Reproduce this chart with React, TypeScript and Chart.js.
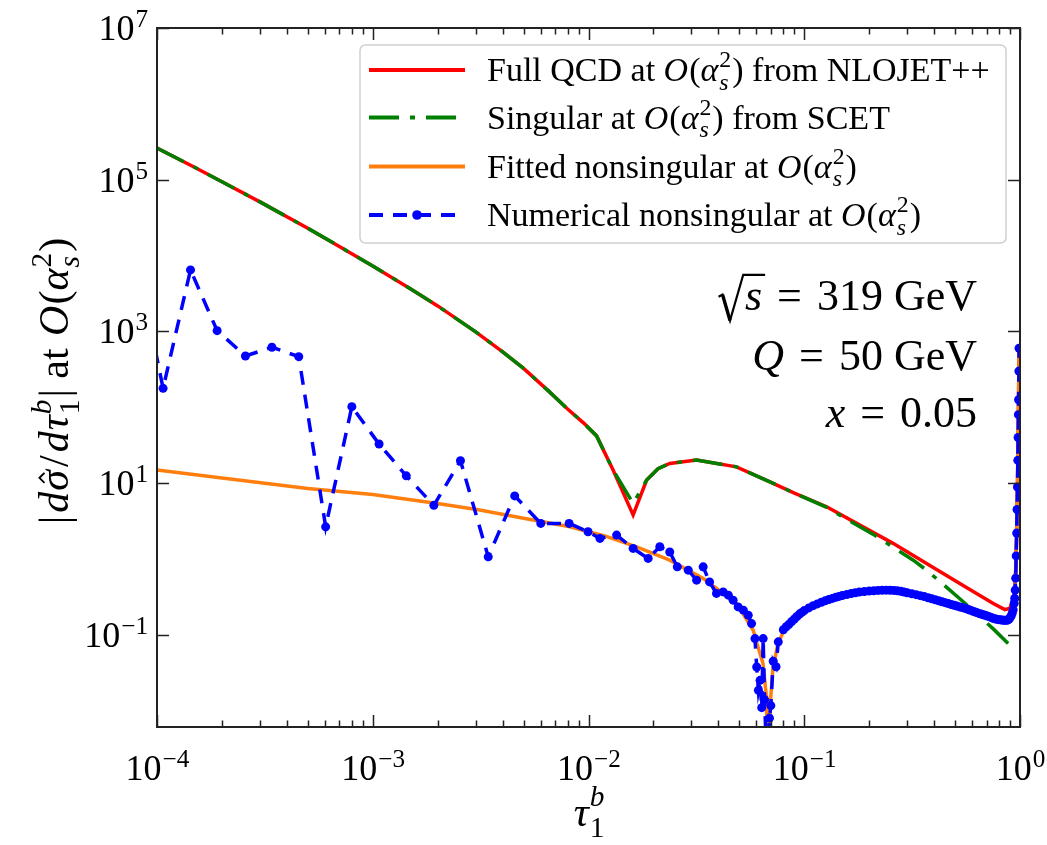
import React, { useEffect, useRef } from "react";
import { Chart, registerables } from "chart.js";
Chart.register(...registerables);

// ---------------- data ----------------
const FULL_X = [1e-4, 1.5e-4, 2e-4, 3e-4, 5e-4, 7e-4, 1e-3, 1.5e-3, 2e-3, 3e-3, 4e-3, 5e-3, 6.5e-3, 8e-3, 9.5e-3, 0.0109, 0.013, 0.0161, 0.0186, 0.021, 0.0238, 0.0317, 0.0485, 0.0693, 0.09, 0.127, 0.181, 0.258, 0.369, 0.526, 0.752, 0.851, 0.897, 0.937, 0.955, 0.965, 0.973, 0.98, 0.99];
const FULL_Y = [2.61e5, 1.45e5, 9.4e4, 5.1e4, 2.29e4, 1.32e4, 7280, 3620, 2170, 986, 538, 326, 166, 95, 62, 42, 14.9, 3.8, 11.0, 15.5, 18.2, 20.2, 16.4, 10.4, 7.4, 4.89, 2.8, 1.61, 0.873, 0.476, 0.26, 0.216, 0.223, 0.317, 0.7, 2.4, 9, 40, 600];

const SING_X = [1e-4, 1.5e-4, 2e-4, 3e-4, 5e-4, 7e-4, 1e-3, 1.5e-3, 2e-3, 3e-3, 4e-3, 5e-3, 6.5e-3, 8e-3, 9.5e-3, 0.0109, 0.013, 0.0161, 0.0186, 0.021, 0.0238, 0.0317, 0.0485, 0.0693, 0.09, 0.127, 0.181, 0.208, 0.32, 0.369, 0.526, 0.752, 0.881];
const SING_Y = [2.61e5, 1.45e5, 9.4e4, 5.1e4, 2.29e4, 1.32e4, 7280, 3620, 2170, 986, 538, 326, 166, 95, 62, 42, 14.9, 5.4, 11.0, 15.5, 18.2, 20.2, 16.4, 10.4, 7.4, 4.8, 2.66, 2.13, 0.966, 0.713, 0.30, 0.12, 0.077];

const FIT_X = [1e-4, 2e-4, 5e-4, 1e-3, 2e-3, 3.13e-3, 5e-3, 8.2e-3, 0.012, 0.0167, 0.0238, 0.034, 0.0415, 0.0485, 0.054, 0.058, 0.0615, 0.0644, 0.0668, 0.068, 0.0695, 0.0715, 0.075, 0.08, 0.09, 0.1, 0.12, 0.15, 0.2, 0.24, 0.3, 0.4, 0.5, 0.6, 0.7, 0.8, 0.87, 0.91, 0.94, 0.96, 0.975, 0.985, 0.99];
const FIT_Y = [14.9, 11.7, 8.5, 7.1, 5.4, 4.43, 3.45, 2.66, 2.0, 1.45, 0.966, 0.555, 0.362, 0.259, 0.16, 0.115, 0.0646, 0.042, 0.0152, 1e-4, 0.012, 0.035, 0.07, 0.112, 0.16, 0.205, 0.268, 0.33, 0.378, 0.388, 0.36, 0.29, 0.245, 0.207, 0.178, 0.16, 0.155, 0.175, 0.25, 0.9, 10, 130, 600];

const NUM_X = [
  8.0e-5, 1.067e-4, 1.43e-4, 1.9e-4, 2.57e-4, 3.41e-4, 4.54e-4, 6.05e-4, 8.0e-4, 1.07e-3, 1.43e-3, 1.92e-3, 2.55e-3, 3.43e-3, 4.55e-3, 6.01e-3, 8.13e-3, 9.95e-3,
  0.0113, 0.0135, 0.0161, 0.0189, 0.0214, 0.0238, 0.0258, 0.029, 0.0317, 0.034, 0.0364, 0.0392, 0.0421, 0.0445, 0.0468, 0.0494, 0.0522, 0.055, 0.057,
  0.0591, 0.0602, 0.0613, 0.0624, 0.0635, 0.0645, 0.0655, 0.0665, 0.0678, 0.069, 0.07, 0.0718, 0.074, 0.0758,
  0.08, 0.0825, 0.085, 0.0875, 0.09, 0.0925, 0.095, 0.0975, 0.1, 0.105, 0.11, 0.115, 0.12, 0.125, 0.13, 0.135, 0.14, 0.145, 0.15, 0.1575, 0.165, 0.1725, 0.18, 0.19,
  0.2, 0.21, 0.22, 0.23, 0.24, 0.25, 0.26, 0.27, 0.28, 0.29, 0.3, 0.315, 0.33, 0.345, 0.36, 0.375, 0.39, 0.405, 0.42, 0.435, 0.45, 0.465, 0.48, 0.495,
  0.51, 0.525, 0.54, 0.555, 0.57, 0.585, 0.6, 0.615, 0.63, 0.645, 0.66, 0.675, 0.69, 0.705, 0.72, 0.735, 0.75, 0.765, 0.78, 0.795, 0.81, 0.825, 0.84, 0.855,
  0.87, 0.88, 0.89, 0.9, 0.91, 0.92, 0.93, 0.94, 0.945, 0.95, 0.955, 0.96, 0.965, 0.969, 0.973, 0.977, 0.98, 0.983, 0.985, 0.988, 0.99,
];
const NUM_Y = [
  1.0e4, 178, 6470, 1025, 475, 620, 465, 2.66, 102, 32.8, 12.5, 5.1, 19.8, 1.07, 6.8, 2.95, 2.95, 2.29,
  1.87, 2.07, 1.38, 1.02, 1.45, 1.24, 0.789, 0.713, 0.527, 0.789, 0.5, 0.352, 0.369, 0.334, 0.287, 0.234, 0.212, 0.182, 0.141,
  0.0895, 0.0378, 0.0186, 0.0252, 0.011, 0.0895, 0.014, 0.004, 0.003, 0.008, 0.0117, 0.045, 0.038, 0.081,
  0.117, 0.128, 0.138, 0.15, 0.162, 0.175, 0.188, 0.198, 0.209, 0.227, 0.243, 0.256, 0.269, 0.281, 0.293, 0.303, 0.313, 0.322, 0.331, 0.341, 0.351, 0.359, 0.367, 0.373,
  0.378, 0.382, 0.386, 0.388, 0.389, 0.388, 0.386, 0.381, 0.376, 0.368, 0.359, 0.349, 0.339, 0.329, 0.32, 0.309, 0.299, 0.29, 0.282, 0.274, 0.266, 0.259, 0.252, 0.246,
  0.24, 0.234, 0.229, 0.224, 0.219, 0.213, 0.207, 0.202, 0.197, 0.192, 0.188, 0.184, 0.181, 0.177, 0.174, 0.17, 0.166, 0.163, 0.161, 0.159, 0.158, 0.157, 0.156, 0.156,
  0.156, 0.158, 0.162, 0.169, 0.178, 0.193, 0.214, 0.26, 0.302, 0.39, 0.56, 1.1, 2.2, 4.5, 8.9, 20, 40, 80, 126, 300, 600,
];

const X_TICK_EXP = [-4, -3, -2, -1, 0];
const Y_TICK_EXP = [-1, 1, 3, 5, 7];
const X_MIN = 1e-4;
const X_MAX = 1;
const Y_MIN = 0.00611;
const Y_MAX = 1e7;

const LEGEND_LABELS = ["Full QCD at", "Singular at", "Fitted nonsingular at", "Numerical nonsingular at"];
const LEGEND_TAILS = [" from NLOJET++", " from SCET", "", ""];

const COLORS = { red: "#ff0000", green: "#008000", orange: "#ff7f0e", blue: "#0000ff" };
const GREEN_DASH = [30, 11, 5, 11];
const BLUE_DASH = [14, 10];

// ---------------- rich text helpers ----------------
const FONT = '"Liberation Serif", "Times New Roman", serif';
const fnt = (size: number, it?: boolean) => `${it ? "italic " : ""}${size}px ${FONT}`;

interface Seg {
  t?: string;
  it?: boolean;
  sup?: string;
  sub?: string;
  supIt?: boolean;
  subIt?: boolean;
  hat?: boolean;
  sp?: number;
  supDy?: number;
  subDy?: number;
}

function measureSeg(ctx: CanvasRenderingContext2D, s: Seg, size: number) {
  let w = 0;
  if (s.t) {
    ctx.font = fnt(size, s.it);
    w = ctx.measureText(s.t).width;
  }
  let ws = 0;
  const ss = size * 0.7;
  if (s.sup) {
    ctx.font = fnt(ss, s.supIt);
    ws = Math.max(ws, ctx.measureText(s.sup).width);
  }
  if (s.sub) {
    ctx.font = fnt(ss, s.subIt);
    ws = Math.max(ws, ctx.measureText(s.sub).width);
  }
  return { w, ws, total: w + ws + (s.sp || 0) };
}

function richWidth(ctx: CanvasRenderingContext2D, segs: Seg[], size: number) {
  return segs.reduce((a, s) => a + measureSeg(ctx, s, size).total, 0);
}

function drawRich(
  ctx: CanvasRenderingContext2D,
  segs: Seg[],
  x: number,
  y: number,
  size: number,
  align: "left" | "center" | "right",
  color = "#000"
) {
  const ms = segs.map((s) => measureSeg(ctx, s, size));
  const total = ms.reduce((a, m) => a + m.total, 0);
  let cx = align === "right" ? x - total : align === "center" ? x - total / 2 : x;
  ctx.save();
  ctx.textAlign = "left";
  ctx.textBaseline = "alphabetic";
  ctx.fillStyle = color;
  ctx.strokeStyle = color;
  segs.forEach((s, i) => {
    const m = ms[i];
    if (s.t) {
      ctx.font = fnt(size, s.it);
      ctx.fillText(s.t, cx, y);
      if (s.hat) {
        const hx = cx + m.w / 2 + size * 0.06;
        ctx.lineWidth = Math.max(1.5, size * 0.045);
        ctx.beginPath();
        ctx.moveTo(hx - size * 0.12, y - size * 0.56);
        ctx.lineTo(hx, y - size * 0.68);
        ctx.lineTo(hx + size * 0.12, y - size * 0.56);
        ctx.stroke();
      }
    }
    cx += m.w;
    const ss = size * 0.7;
    const both = !!(s.sup && s.sub);
    if (s.sup) {
      ctx.font = fnt(ss, s.supIt);
      ctx.fillText(s.sup, cx + 1, y - size * (s.supDy ?? (both ? 0.4 : 0.38)));
    }
    if (s.sub) {
      ctx.font = fnt(ss, s.subIt);
      ctx.fillText(s.sub, cx + 1, y + size * (s.subDy ?? (both ? 0.25 : 0.18)));
    }
    cx += m.ws + (s.sp || 0);
  });
  ctx.restore();
  return total;
}

const OAS2: Seg[] = [
  { t: "O", it: true, sp: 1 },
  { t: "(" },
  { t: "α", it: true, sub: "s", subIt: true, sup: "2", sp: 2 },
  { t: ")" },
];

// ---------------- decoration plugin ----------------
const decor = {
  id: "decor",
  afterDraw(chart: any) {
    const ctx: CanvasRenderingContext2D = chart.ctx;
    const { left, right, top, bottom } = chart.chartArea;
    const xs = chart.scales.x;
    const ys = chart.scales.y;
    const axisColor = "#222";

    ctx.save();
    // ticks
    ctx.strokeStyle = axisColor;
    ctx.lineWidth = 1.5;
    ctx.beginPath();
    for (let e = -4; e <= 0; e++) {
      const px = Math.round(xs.getPixelForValue(Math.pow(10, e))) + 0.5;
      ctx.moveTo(px, bottom);
      ctx.lineTo(px, bottom - 12);
      ctx.moveTo(px, top);
      ctx.lineTo(px, top + 12);
      if (e < 0) {
        for (let k = 2; k <= 9; k++) {
          const mx = Math.round(xs.getPixelForValue(k * Math.pow(10, e))) + 0.5;
          ctx.moveTo(mx, bottom);
          ctx.lineTo(mx, bottom - 6.5);
          ctx.moveTo(mx, top);
          ctx.lineTo(mx, top + 6.5);
        }
      }
    }
    Y_TICK_EXP.forEach((e) => {
      const py = Math.round(ys.getPixelForValue(Math.pow(10, e))) + 0.5;
      ctx.moveTo(left, py);
      ctx.lineTo(left + 12, py);
      ctx.moveTo(right, py);
      ctx.lineTo(right - 12, py);
    });
    ctx.stroke();

    // frame
    ctx.lineWidth = 2;
    ctx.strokeRect(left, top, right - left, bottom - top);

    // tick labels
    const tickSize = 36;
    X_TICK_EXP.forEach((e) => {
      const px = xs.getPixelForValue(Math.pow(10, e));
      const exp = e < 0 ? "\u2212" + Math.abs(e) : String(e);
      drawRich(ctx, [{ t: "10", sup: exp, supDy: 0.36 }], px, 780, tickSize, "center");
    });
    Y_TICK_EXP.forEach((e) => {
      const py = ys.getPixelForValue(Math.pow(10, e));
      const exp = e < 0 ? "\u2212" + Math.abs(e) : String(e);
      drawRich(ctx, [{ t: "10", sup: exp, supDy: 0.36 }], 147, py + 12, tickSize, "right");
    });

    // x title
    drawRich(
      ctx,
      [{ t: "τ", it: true, sub: "1", sup: "b", supIt: true, supDy: 0.48, subDy: 0.26 }],
      (left + right) / 2,
      826,
      42,
      "center"
    );

    // y title (rotated)
    ctx.save();
    ctx.translate(68, 381);
    ctx.rotate(-Math.PI / 2);
    const ySegs: Seg[] = [
      { t: "|", sp: 3 },
      { t: "d", it: true, sp: 1 },
      { t: "σ", it: true, hat: true, sp: 3 },
      { t: "/", sp: 3 },
      { t: "d", it: true, sp: 1 },
      { t: "τ", it: true, sub: "1", sup: "b", supIt: true, sp: 3 },
      { t: "|" },
      { t: " at ", sp: 2 },
      ...OAS2,
    ];
    drawRich(ctx, ySegs, 0, 0, 42, "center");
    ctx.restore();

    // legend box
    const lx0 = 360, ly0 = 45, lx1 = 1006, ly1 = 243, r = 6;
    ctx.beginPath();
    ctx.moveTo(lx0 + r, ly0);
    ctx.lineTo(lx1 - r, ly0);
    ctx.quadraticCurveTo(lx1, ly0, lx1, ly0 + r);
    ctx.lineTo(lx1, ly1 - r);
    ctx.quadraticCurveTo(lx1, ly1, lx1 - r, ly1);
    ctx.lineTo(lx0 + r, ly1);
    ctx.quadraticCurveTo(lx0, ly1, lx0, ly1 - r);
    ctx.lineTo(lx0, ly0 + r);
    ctx.quadraticCurveTo(lx0, ly0, lx0 + r, ly0);
    ctx.closePath();
    ctx.fillStyle = "rgba(255,255,255,0.85)";
    ctx.fill();
    ctx.strokeStyle = "#d0d0d0";
    ctx.lineWidth = 1.5;
    ctx.stroke();

    const rows = [70, 117.5, 166.5, 215];
    const lineX0 = 369, lineX1 = 465;
    const styles = [
      { c: COLORS.red, dash: [] as number[] },
      { c: COLORS.green, dash: GREEN_DASH },
      { c: COLORS.orange, dash: [] as number[] },
      { c: COLORS.blue, dash: BLUE_DASH },
    ];
    rows.forEach((ry, i) => {
      const st = styles[i];
      ctx.save();
      ctx.strokeStyle = st.c;
      ctx.lineWidth = 4;
      ctx.setLineDash(st.dash);
      ctx.beginPath();
      ctx.moveTo(lineX0, ry);
      ctx.lineTo(lineX1, ry);
      ctx.stroke();
      if (i === 3) {
        ctx.fillStyle = st.c;
        ctx.beginPath();
        ctx.arc((lineX0 + lineX1) / 2, ry, 4.8, 0, Math.PI * 2);
        ctx.fill();
      }
      ctx.restore();
      const segs: Seg[] = [{ t: LEGEND_LABELS[i] + " " }, ...OAS2];
      if (LEGEND_TAILS[i]) segs.push({ t: LEGEND_TAILS[i] });
      drawRich(ctx, segs, 487, ry + 11, 34, "left");
    });

    // annotations
    const aSize = 44;
    const aRight = 977;
    const gap = 15;
    const eqSegs = (lhs: Seg, rhs: string): Seg[] => [
      { ...lhs, sp: gap },
      { t: "=", sp: gap },
      { t: rhs },
    ];
    // line 1: sqrt(s) = 319 GeV
    const l1 = eqSegs({ t: "s", it: true }, "319 GeV");
    const w1 = richWidth(ctx, l1, aSize);
    const rad = aSize * 0.6;
    const sx = aRight - w1 - rad;
    const b1 = 310;
    ctx.strokeStyle = "#000";
    ctx.lineWidth = 2.2;
    ctx.lineJoin = "miter";
    ctx.beginPath();
    ctx.moveTo(sx, b1 - aSize * 0.3);
    ctx.lineTo(sx + aSize * 0.09, b1 - aSize * 0.35);
    ctx.lineTo(sx + aSize * 0.26, b1 + aSize * 0.24);
    ctx.lineTo(sx + aSize * 0.56, b1 - aSize * 0.8);
    ctx.lineTo(sx + rad + measureSeg(ctx, { t: "s", it: true }, aSize).w + 3, b1 - aSize * 0.8);
    ctx.stroke();
    ctx.lineWidth = 3.4;
    ctx.beginPath();
    ctx.moveTo(sx + aSize * 0.09, b1 - aSize * 0.35);
    ctx.lineTo(sx + aSize * 0.26, b1 + aSize * 0.24);
    ctx.stroke();
    drawRich(ctx, l1, aRight, b1, aSize, "right");
    drawRich(ctx, eqSegs({ t: "Q", it: true }, "50 GeV"), aRight, 370, aSize, "right");
    drawRich(ctx, eqSegs({ t: "x", it: true }, "0.05"), aRight, 427, aSize, "right");

    ctx.restore();
  },
};

function pts(xs: number[], ys: number[]) {
  return xs.map((x, i) => ({ x, y: ys[i] }));
}

export default function App() {
  const ref = useRef<HTMLCanvasElement | null>(null);
  useEffect(() => {
    if (!ref.current) return;
    const chart = new Chart(ref.current, {
      type: "line",
      data: {
        datasets: [
          {
            label: "Full QCD",
            data: pts(FULL_X, FULL_Y),
            borderColor: COLORS.red,
            borderWidth: 3.5,
            pointRadius: 0,
            tension: 0,
            order: 4,
            clip: 0,
          },
          {
            label: "Singular",
            data: pts(SING_X, SING_Y),
            borderColor: COLORS.green,
            borderWidth: 3.5,
            borderDash: GREEN_DASH,
            pointRadius: 0,
            tension: 0,
            order: 3,
            clip: 0,
          },
          {
            label: "Fitted nonsingular",
            data: pts(FIT_X, FIT_Y),
            borderColor: COLORS.orange,
            borderWidth: 3.5,
            pointRadius: 0,
            tension: 0,
            order: 2,
            clip: 0,
          },
          {
            label: "Numerical nonsingular",
            data: pts(NUM_X, NUM_Y),
            borderColor: COLORS.blue,
            borderWidth: 3.5,
            borderDash: BLUE_DASH,
            pointRadius: 4.5,
            pointBackgroundColor: COLORS.blue,
            pointBorderWidth: 0,
            tension: 0,
            order: 1,
            clip: 0,
          },
        ] as any,
      },
      options: {
        responsive: false,
        animation: false,
        layout: { padding: { left: 157, right: 27, top: 28, bottom: 118 } },
        scales: {
          x: { type: "logarithmic", min: X_MIN, max: X_MAX, display: false },
          y: { type: "logarithmic", min: Y_MIN, max: Y_MAX, display: false },
        },
        plugins: { legend: { display: false }, tooltip: { enabled: false } },
        events: [],
      } as any,
      plugins: [decor],
    });
    return () => chart.destroy();
  }, []);
  return (
    <div style={{ position: "absolute", left: 0, top: 0, width: 1047, height: 845, background: "#fff" }}>
      <canvas ref={ref} width={1047} height={845} style={{ display: "block" }} />
    </div>
  );
}
